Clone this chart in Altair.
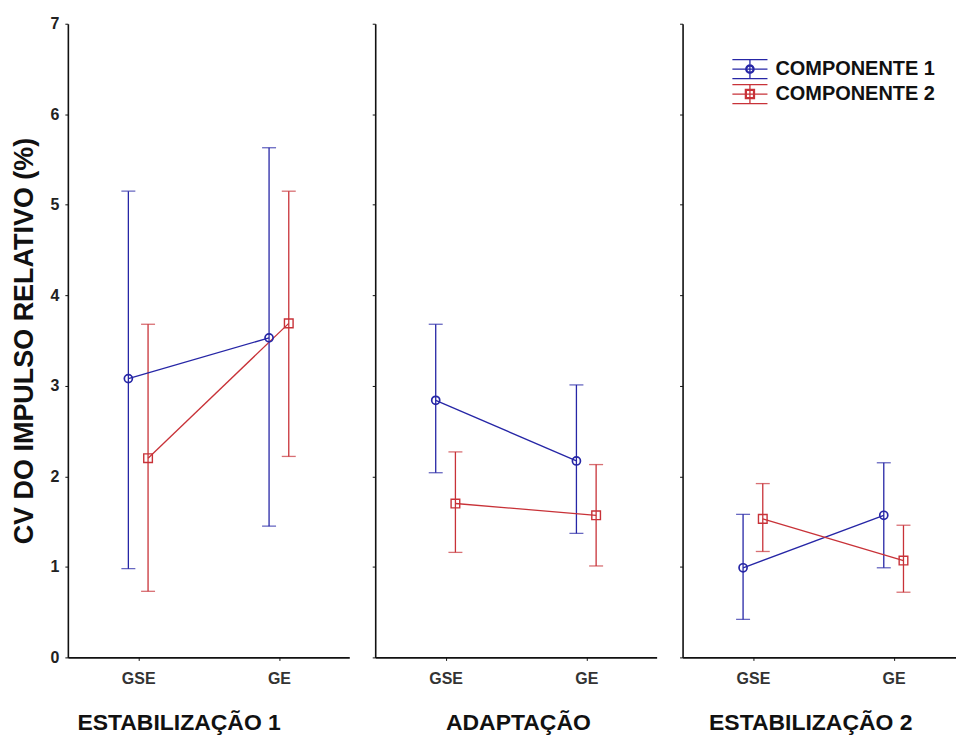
import altair as alt
import pandas as pd

# Categories
fases = ["ESTABILIZAÇÃO 1", "ADAPTAÇÃO", "ESTABILIZAÇÃO 2"]
grupos = ["GSE", "GE"]
series = ["COMPONENTE 1", "COMPONENTE 2"]

# Values per (fase, grupo): order E1-GSE, E1-GE, AD-GSE, AD-GE, E2-GSE, E2-GE
c1_media = [3.08, 3.53, 2.84, 2.17, 0.99, 1.57]
c1_inf = [0.98, 1.45, 2.04, 1.37, 0.42, 0.99]
c1_sup = [5.15, 5.63, 3.68, 3.01, 1.58, 2.15]

c2_media = [2.20, 3.69, 1.70, 1.57, 1.53, 1.07]
c2_inf = [0.73, 2.22, 1.16, 1.01, 1.17, 0.72]
c2_sup = [3.68, 5.15, 2.27, 2.13, 1.92, 1.46]

y_ticks = [0, 1, 2, 3, 4, 5, 6, 7]

rows = []
for serie, med, inf, sup in [
    (series[0], c1_media, c1_inf, c1_sup),
    (series[1], c2_media, c2_inf, c2_sup),
]:
    k = 0
    for fase in fases:
        for grupo in grupos:
            rows.append({"fase": fase, "grupo": grupo, "serie": serie,
                         "media": med[k], "inf": inf[k], "sup": sup[k]})
            k += 1
df = pd.DataFrame(rows)

AZUL = "#2626a6"
VERMELHO = "#c83238"
FONTE = "Liberation Sans"

cor = alt.Scale(domain=series, range=[AZUL, VERMELHO])

# Legend glyphs: three bars, a vertical stem and a hollow marker (ring)
HASTES = "M-1.85,-1H1.85M-1.85,0H1.85M-1.85,1H1.85M0,-1V1"
SIMB_CIRC = (HASTES +
             "M0.44,0A0.44,0.44,0,1,1,-0.44,0A0.44,0.44,0,1,1,0.44,0Z"
             "M0.34,0A0.34,0.34,0,1,0,-0.34,0A0.34,0.34,0,1,0,0.34,0Z")
SIMB_QUAD = (HASTES +
             "M-0.48,-0.48H0.48V0.48H-0.48Z"
             "M-0.38,-0.38V0.38H0.38V-0.38Z")

PX_POR_UNIDADE = 70.5  # horizontal scale shared by the three panels


def painel(fase, largura, primeiro, legenda, titulo_x):
    base = alt.Chart(df).transform_filter(
        alt.datum.fase == fase
    ).transform_calculate(
        xpos="indexof(['GSE','GE'], datum.grupo) * 2 + 1 + "
             "(datum.serie == 'COMPONENTE 1' ? -0.14 : 0.14)"
    )

    eixo_x = alt.Axis(
        values=[1, 3],
        labelExpr="datum.value == 1 ? 'GSE' : 'GE'",
        title=fase, grid=False, tickSize=3,
        labelFontSize=16, labelFontWeight="bold", labelColor="#333333",
        labelPadding=10, titlePadding=25, titleFontSize=23,
        titleFontWeight="bold", titleColor="#111111",
        titleX=titulo_x, titleAlign="center",
    )
    x = alt.X("xpos:Q",
              scale=alt.Scale(domain=[0, largura / PX_POR_UNIDADE],
                              nice=False, zero=False),
              axis=eixo_x)

    if primeiro:
        eixo_y = alt.Axis(values=y_ticks, grid=False, tickSize=3,
                          title="CV DO IMPULSO RELATIVO (%)",
                          labelFontSize=16, labelFontWeight="bold",
                          labelColor="#222222", labelPadding=6,
                          titleFontSize=27, titleFontWeight="bold",
                          titleColor="#111111", titlePadding=12)
    else:
        eixo_y = alt.Axis(values=y_ticks, grid=False, tickSize=3,
                          labels=False, title=None)
    esc_y = alt.Scale(domain=[0, 7], nice=False, zero=True)

    def Y(campo):
        return alt.Y(f"{campo}:Q", scale=esc_y, axis=eixo_y)

    c = alt.Color("serie:N", scale=cor, legend=None)

    barras = base.mark_rule(strokeWidth=1.3).encode(
        x=x, y=Y("inf"), y2="sup:Q", color=c)
    tampa_sup = base.mark_tick(orient="horizontal", size=14, thickness=1.3).encode(
        x=x, y=Y("sup"), color=c)
    tampa_inf = base.mark_tick(orient="horizontal", size=14, thickness=1.3).encode(
        x=x, y=Y("inf"), color=c)
    linha = base.mark_line(strokeWidth=1.3).encode(
        x=x, y=Y("media"), color=c, detail="serie:N")
    circulos = base.transform_filter(alt.datum.serie == series[0]).mark_point(
        shape="circle", filled=False, size=65, strokeWidth=1.7, opacity=1
    ).encode(x=x, y=Y("media"), color=c)
    quadrados = base.transform_filter(alt.datum.serie == series[1]).mark_point(
        shape="square", filled=False, size=75, strokeWidth=1.4, opacity=1
    ).encode(x=x, y=Y("media"), color=c)

    camadas = [barras, tampa_sup, tampa_inf, linha, circulos, quadrados]

    if legenda:
        # Invisible layer that carries the series key
        leg = alt.Legend(
            title=None, orient="none", legendX=57, legendY=35,
            labelFont=FONTE, labelFontSize=20, labelFontWeight="bold",
            labelColor="#111111", labelOffset=15, labelLimit=400,
            symbolSize=361, symbolStrokeWidth=1.3, rowPadding=0,
            symbolOpacity=1,
        )
        chave = base.mark_point(filled=False, opacity=0).encode(
            x=x, y=Y("media"),
            stroke=alt.Stroke("serie:N", scale=cor, legend=leg),
            shape=alt.Shape("serie:N",
                            scale=alt.Scale(domain=series,
                                            range=[SIMB_CIRC, SIMB_QUAD]),
                            legend=leg),
        )
        camadas.insert(0, chave)

    return alt.layer(*camadas).properties(width=largura, height=635)


chart = alt.hconcat(
    painel(fases[0], 282, True, False, 111),
    painel(fases[1], 282, False, False, 143),
    painel(fases[2], 274, False, True, 128),
    spacing=22,
).resolve_scale(
    color="independent", shape="independent", stroke="independent"
).resolve_legend(
    color="independent", shape="independent", stroke="independent"
).properties(
    padding={"left": 10, "top": 15, "right": 0, "bottom": 2},
    background="white",
).configure_view(
    stroke=None
).configure_axis(
    domainColor="#111111", domainWidth=1.6, tickColor="#111111",
    labelFont=FONTE, titleFont=FONTE,
)

chart.save("out.html", embed_options={"renderer": "svg", "actions": False})
